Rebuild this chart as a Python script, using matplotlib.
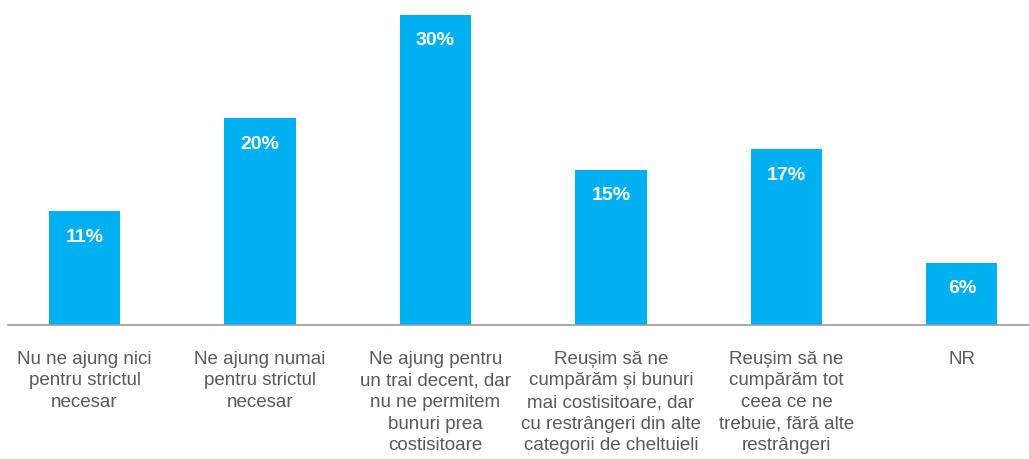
import matplotlib.pyplot as plt
from matplotlib.transforms import blended_transform_factory

plt.rcParams['font.family'] = ['Liberation Sans', 'DejaVu Sans']

categories = [
    "Nu ne ajung nici\npentru strictul\nnecesar",
    "Ne ajung numai\npentru strictul\nnecesar",
    "Ne ajung pentru\nun trai decent, dar\nnu ne permitem\nbunuri prea\ncostisitoare",
    "Reușim să ne\ncumpărăm și bunuri\nmai costisitoare, dar\ncu restrângeri din alte\ncategorii de cheltuieli",
    "Reușim să ne\ncumpărăm tot\nceea ce ne\ntrebuie, fără alte\nrestrângeri",
    "NR",
]
values = [11, 20, 30, 15, 17, 6]

fig = plt.figure(figsize=(10.29, 4.59), dpi=100)
ax = fig.add_axes([8 / 1029, 134 / 459, 1021 / 1029, 325 / 459])

x = list(range(len(values)))
ax.bar(x, values, width=0.405, color='#00B0F0')

for xi, v in zip(x, values):
    ax.annotate(f"{v}%", (xi, v), xytext=(0, -18.5), textcoords='offset points',
                ha='center', va='center', color='white', fontsize=14, fontweight='bold')

trans = blended_transform_factory(ax.transData, ax.transAxes)
for xi, lab in zip(x, categories):
    ax.annotate(lab, (xi, 0), xycoords=trans, xytext=(0, -18.5), textcoords='offset points',
                ha='center', va='top', color='#595959', fontsize=13.5, linespacing=1.36,
                annotation_clip=False)

ax.set_xlim(-0.436, 5.382)
ax.set_ylim(0, 325 / 10.333)
for s in ['top', 'right', 'left']:
    ax.spines[s].set_visible(False)
ax.spines['bottom'].set_color('#999999')
ax.spines['bottom'].set_linewidth(1.2)
ax.set_xticks([])
ax.set_yticks([])

fig.savefig('out.png', dpi=100)
